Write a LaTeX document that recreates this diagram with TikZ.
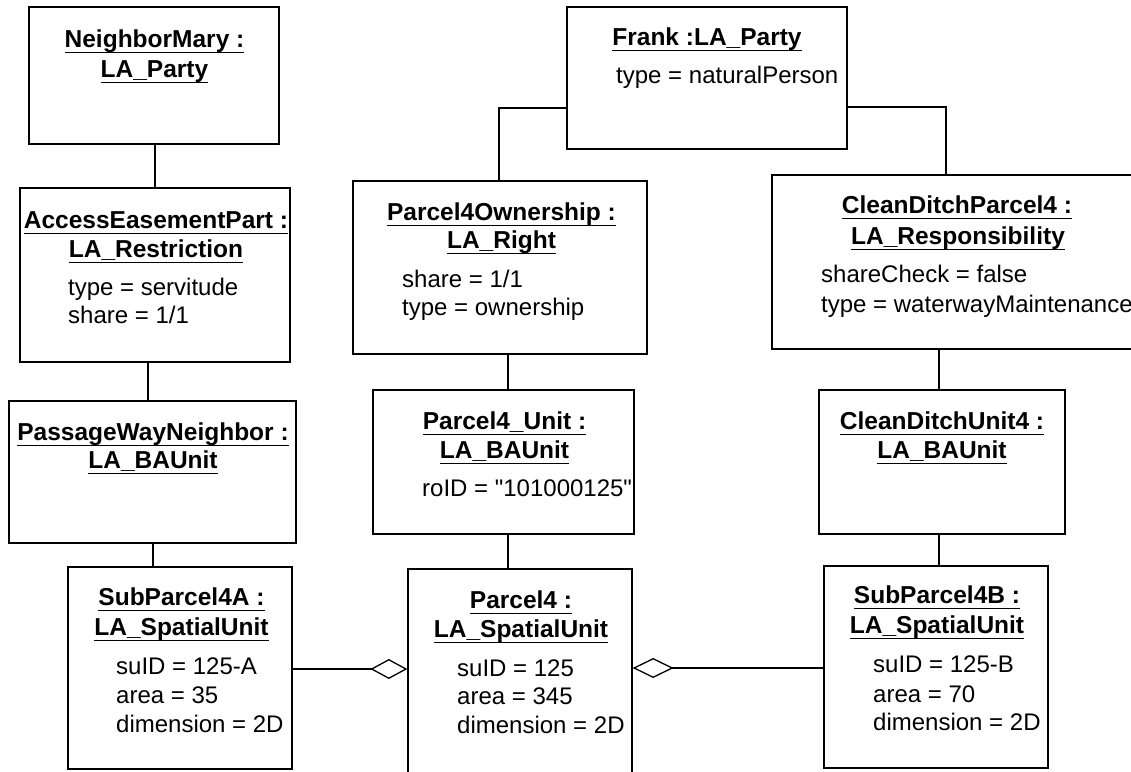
\documentclass[tikz,border=0pt]{standalone}
\usepackage{fontspec}
\setmainfont{Liberation Sans}
\newfontfamily\rawsans{Liberation Sans}
\usetikzlibrary{arrows.meta}
\newcommand\ulbox[1]{\setbox0\hbox{#1}\rlap{\rule[-6.4pt]{\wd0}{1.3pt}}\box0}
\begin{document}
\begin{tikzpicture}[x=1pt,y=-1pt,
  box/.style={draw,line width=1.3pt,inner sep=0pt,rectangle},
  conn/.style={line width=1.3pt},
  ttl/.style={anchor=base,inner sep=0pt,font=\fontsize{24.5}{29}\selectfont\bfseries},
  attr/.style={anchor=base west,inner sep=0pt,font=\fontsize{24}{28}\selectfont}]
\useasboundingbox (0,0) rectangle (1131,771);
\fill[white] (0,0) rectangle (1131,771);
\clip (0,0) rectangle (1131,771);

% boxes
\node[box,minimum width=250pt,minimum height=137pt] (NM) at (154,75.5) {};
\node[box,minimum width=270pt,minimum height=174pt] (AE) at (155,275) {};
\node[box,minimum width=280pt,minimum height=142pt] (FR) at (707,78) {};
\node[box,minimum width=294pt,minimum height=173pt] (PO) at (500,267.5) {};
\node[box,minimum width=370pt,minimum height=174pt] (CD) at (957,262) {};
\node[box,minimum width=287pt,minimum height=142pt] (PWN) at (152.5,472) {};
\node[box,minimum width=261pt,minimum height=144pt] (PU) at (503.5,462) {};
\node[box,minimum width=246pt,minimum height=144pt] (CDU) at (942,462) {};
\node[box,minimum width=224pt,minimum height=202pt] (SPA) at (180,668) {};
\node[box,minimum width=224pt,minimum height=220pt] (PF) at (520,679) {};
\node[box,minimum width=224pt,minimum height=202pt] (SPB) at (936,667) {};

% texts
\node[ttl] (NMa) at (154.5,47) {\ulbox{NeighborMary :}};
\node[ttl] (NMb) at (154.5,77) {\ulbox{LA\_Party}};

\node[ttl] (AEa) at (156,228) {\ulbox{AccessEasementPart :}};
\node[ttl] (AEb) at (156,257) {\ulbox{LA\_Restriction}};
\node[attr] (AEc) at (68,295) {type = servitude};
\node[attr] (AEd) at (68,323) {share = 1/1};

\node[ttl] (FRa) at (707,45) {\ulbox{Frank :LA\_Party}};
\node[attr] (FRb) at (616,83) {type = naturalPerson};

\node[ttl] (POa) at (501.5,220) {\ulbox{Parcel4Ownership :}};
\node[ttl] (POb) at (501.5,248) {\ulbox{LA\_Right}};
\node[attr] (POc) at (402,287) {share = 1/1};
\node[attr] (POd) at (402,315) {type = ownership};

\node[ttl] (CDa) at (957,213) {\ulbox{CleanDitchParcel4 :}};
\node[ttl] (CDb) at (958,244) {\ulbox{LA\_Responsibility}};
\node[attr] (CDc) at (821,282) {shareCheck = false};
\node[attr] (CDd) at (821,312) {type = waterwayMaintenance};

\node[ttl] (PWNa) at (153,440) {\ulbox{PassageWayNeighbor :}};
\node[ttl] (PWNb) at (153,468) {\ulbox{LA\_BAUnit}};

\node[ttl] (PUa) at (504.5,429) {\ulbox{Parcel4\_Unit :}};
\node[ttl] (PUb) at (504.5,458) {\ulbox{LA\_BAUnit}};
\node[attr] (PUc) at (422,496) {roID = {\rawsans\char34}101000125{\rawsans\char34}};

\node[ttl] (CDUa) at (942,429) {\ulbox{CleanDitchUnit4 :}};
\node[ttl] (CDUb) at (942,458) {\ulbox{LA\_BAUnit}};

\node[ttl] (SPAa) at (181.5,605) {\ulbox{SubParcel4A :}};
\node[ttl] (SPAb) at (181.5,635) {\ulbox{LA\_SpatialUnit}};
\node[attr] (SPAc) at (116,674) {suID = 125-A};
\node[attr] (SPAd) at (116,703) {area = 35};
\node[attr] (SPAe) at (116,732) {dimension = 2D};

\node[ttl] (PFa) at (521,608) {\ulbox{Parcel4 :}};
\node[ttl] (PFb) at (521,637) {\ulbox{LA\_SpatialUnit}};
\node[attr] (PFc) at (457,676) {suID = 125};
\node[attr] (PFd) at (457,704) {area = 345};
\node[attr] (PFe) at (457,733) {dimension = 2D};

\node[ttl] (SPBa) at (937,603) {\ulbox{SubParcel4B :}};
\node[ttl] (SPBb) at (937,633) {\ulbox{LA\_SpatialUnit}};
\node[attr] (SPBc) at (873,672) {suID = 125-B};
\node[attr] (SPBd) at (873,702) {area = 70};
\node[attr] (SPBe) at (873,730) {dimension = 2D};

% connectors
\draw[conn] ([xshift=1pt]NM.south) -- ([xshift=1pt]NM.south |- AE.north);
\draw[conn] ([xshift=-7pt]AE.south) -- ([xshift=-7pt]AE.south |- PWN.north);
\draw[conn] ([xshift=0.5pt]PWN.south) -- ([xshift=0.5pt]PWN.south |- SPA.north);
\draw[conn] ([yshift=-30pt]FR.west) -| ([xshift=-1pt]PO.north);
\draw[conn] ([yshift=-29pt]FR.east) -| ([xshift=-11pt]CD.north);
\draw[conn] ([xshift=4.5pt]PU.north |- PO.south) -- ([xshift=4.5pt]PU.north);
\draw[conn] ([xshift=4.5pt]PU.south) -- ([xshift=4.5pt]PU.south |- PF.north);
\draw[conn] ([xshift=-3pt]CDU.north |- CD.south) -- ([xshift=-3pt]CDU.north);
\draw[conn] ([xshift=-3pt]CDU.south) -- ([xshift=-3pt]CDU.south |- SPB.north);
\draw[conn,-{Diamond[open,length=37pt,width=20pt]}] ([yshift=-1pt]SPA.east) -- ([yshift=-1pt]SPA.east -| PF.west);
\draw[conn,{Diamond[open,length=41pt,width=20pt]}-] ([yshift=-1pt]SPB.west -| PF.east) -- ([yshift=-1pt]SPB.west);
\end{tikzpicture}
\end{document}
